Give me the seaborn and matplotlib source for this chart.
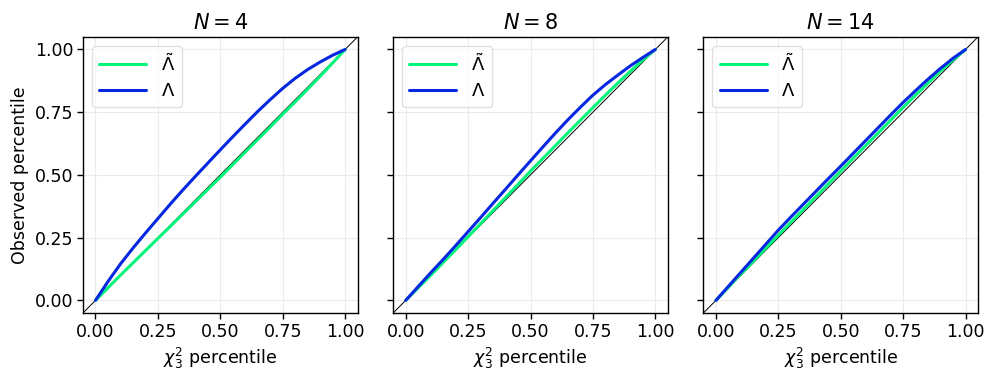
import numpy as np
import pandas as pd
import matplotlib
matplotlib.use("Agg")
import matplotlib.pyplot as plt
import seaborn as sns

# expected (chi^2_3) percentile grid
chi2_pct = [0.0, 0.05, 0.1, 0.15, 0.2, 0.25, 0.3, 0.35, 0.4, 0.45, 0.5,
            0.55, 0.6, 0.65, 0.7, 0.75, 0.8, 0.85, 0.9, 0.95, 1.0]

sample_sizes = [4, 8, 14]

# observed percentiles, corrected statistic (tilde Lambda)
lam_tilde_n4 = [0.0, 0.050, 0.100, 0.149, 0.198, 0.247, 0.295, 0.344, 0.393, 0.442, 0.491,
                0.541, 0.591, 0.641, 0.691, 0.742, 0.791, 0.842, 0.893, 0.946, 1.0]
lam_tilde_n8 = [0.0, 0.050, 0.100, 0.151, 0.202, 0.254, 0.306, 0.358, 0.410, 0.462, 0.515,
                0.566, 0.617, 0.668, 0.718, 0.768, 0.818, 0.866, 0.913, 0.958, 1.0]
lam_tilde_n14 = [0.0, 0.052, 0.105, 0.156, 0.208, 0.260, 0.311, 0.362, 0.413, 0.464, 0.515,
                 0.566, 0.617, 0.667, 0.718, 0.769, 0.818, 0.866, 0.914, 0.958, 1.0]

# observed percentiles, raw statistic (Lambda)
lam_n4 = [0.0, 0.075, 0.145, 0.208, 0.268, 0.326, 0.384, 0.440, 0.494, 0.547, 0.600,
          0.652, 0.703, 0.753, 0.800, 0.845, 0.885, 0.920, 0.950, 0.977, 1.0]
lam_n8 = [0.0, 0.055, 0.110, 0.163, 0.218, 0.274, 0.330, 0.387, 0.443, 0.500, 0.556,
          0.612, 0.667, 0.720, 0.770, 0.818, 0.860, 0.898, 0.935, 0.968, 1.0]
lam_n14 = [0.0, 0.056, 0.112, 0.168, 0.224, 0.280, 0.332, 0.383, 0.434, 0.485, 0.535,
           0.586, 0.637, 0.688, 0.739, 0.789, 0.836, 0.882, 0.925, 0.965, 1.0]

series = {
    4: (lam_tilde_n4, lam_n4),
    8: (lam_tilde_n8, lam_n8),
    14: (lam_tilde_n14, lam_n14),
}

GREEN = "#00f57a"
BLUE = "#0527e0"

sns.set_style("whitegrid", {
    "axes.edgecolor": "black",
    "grid.color": "#ebebeb",
    "xtick.bottom": True,
    "ytick.left": True,
    "text.color": "black",
    "axes.labelcolor": "black",
    "xtick.color": "black",
    "ytick.color": "black",
})
plt.rcParams["font.family"] = ["DejaVu Sans"]
plt.rcParams["mathtext.fontset"] = "dejavusans"

fig, axes = plt.subplots(1, 3, figsize=(10, 3.77), dpi=100, sharey=True)
fig.subplots_adjust(left=0.083, right=0.978, top=0.902, bottom=0.17, wspace=0.13)

for ax, n in zip(axes, sample_sizes):
    tilde_vals, raw_vals = series[n]
    df = pd.DataFrame({
        "expected": chi2_pct * 2,
        "observed": tilde_vals + raw_vals,
        "stat": [r"$\tilde{\Lambda}$"] * len(chi2_pct) + [r"$\Lambda$"] * len(chi2_pct),
    })
    sns.lineplot(data=df, x="expected", y="observed", hue="stat",
                 palette=[GREEN, BLUE], linewidth=2.2, ax=ax)
    ax.axline((0, 0), (1, 1), color="black", linewidth=0.7, zorder=1)

    ax.set_xlim(-0.05, 1.05)
    ax.set_ylim(-0.05, 1.05)
    ticks = [0.0, 0.25, 0.5, 0.75, 1.0]
    ax.set_xticks(ticks)
    ax.set_yticks(ticks)
    ax.set_xticklabels([f"{t:.2f}" for t in ticks])
    ax.set_yticklabels([f"{t:.2f}" for t in ticks])
    ax.tick_params(axis="both", labelsize=12.5, length=4, width=1, color="black", pad=3)
    for spine in ax.spines.values():
        spine.set_linewidth(1.0)

    ax.set_title(f"$N = {n}$", fontsize=15)
    ax.set_xlabel(r"$\chi^2_3$ percentile", fontsize=12.5)
    ax.set_ylabel("Observed percentile", fontsize=12.5)
    leg = ax.legend(loc="upper left", fontsize=13, frameon=True, handlelength=2.6,
                    borderpad=0.4, labelspacing=0.4)
    leg.get_frame().set_edgecolor("#d9d9d9")

axes[1].set_ylabel("")
axes[2].set_ylabel("")

plt.savefig("out.png", dpi=100)
plt.close()
